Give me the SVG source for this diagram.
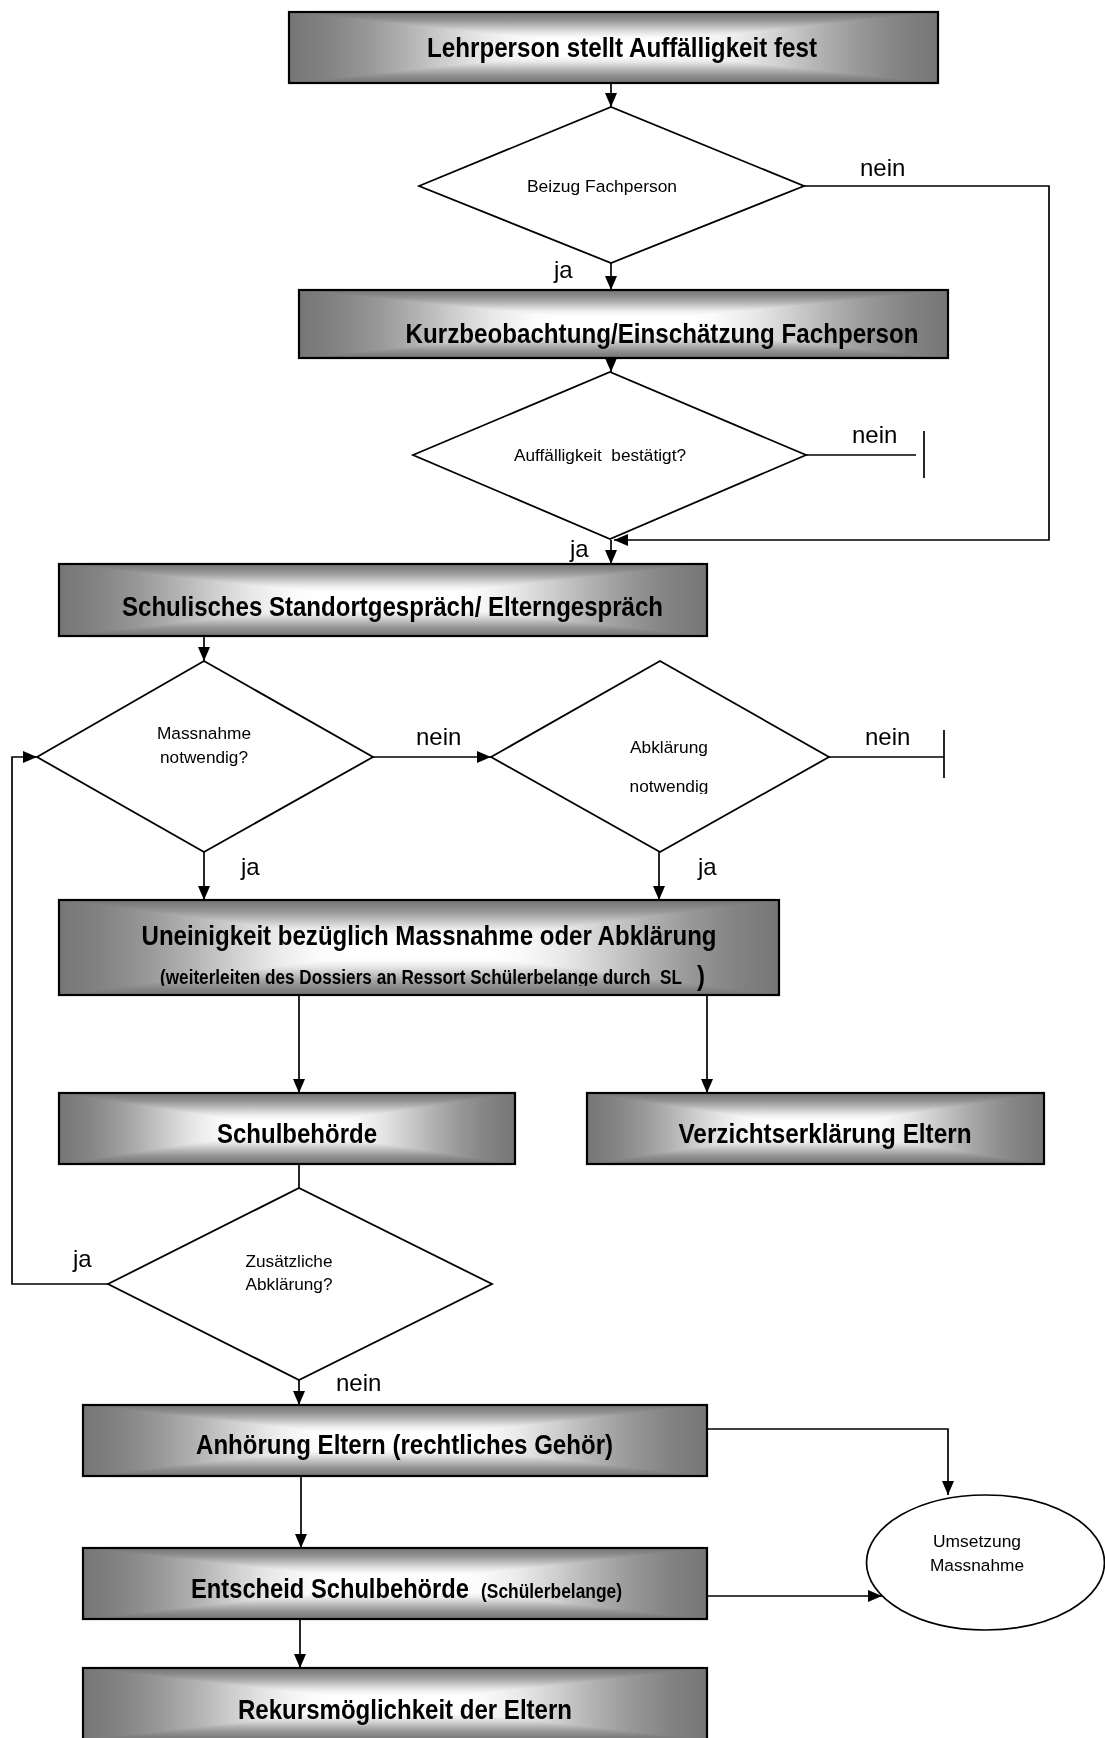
<svg xmlns="http://www.w3.org/2000/svg" width="1105" height="1738" viewBox="0 0 1105 1738">
<style>
.gh{fill:url(#gh)}
.gv{fill:url(#gv);mix-blend-mode:darken}
.bx{fill:none;stroke:#000;stroke-width:2.2}
.dm{fill:#fff;stroke:#000;stroke-width:1.8}
.cn{fill:none;stroke:#000;stroke-width:1.7}
.ar{marker-end:url(#ah)}
.bt{font-family:"Liberation Sans",Arial,sans-serif;font-weight:bold;font-size:24px;fill:#000;text-anchor:middle}
.st{font-family:"Liberation Sans",Arial,sans-serif;font-weight:bold;font-size:17.5px;fill:#000}
.dt{font-family:"Liberation Sans",Arial,sans-serif;font-size:17.4px;fill:#000;text-anchor:middle}
.lb{font-family:"Liberation Sans",Arial,sans-serif;font-size:24px;fill:#000}
</style>
<defs>
<marker id="ah" markerWidth="14" markerHeight="12" refX="14" refY="6" orient="auto" markerUnits="userSpaceOnUse">
<path d="M0,0 L14,6 L0,12 z" fill="#000"/>
</marker>
<linearGradient id="gh" x1="0" y1="0" x2="1" y2="0">
<stop offset="0" stop-color="#767676"/>
<stop offset="0.06" stop-color="#838383"/>
<stop offset="0.12" stop-color="#979797"/>
<stop offset="0.18" stop-color="#b1b1b1"/>
<stop offset="0.24" stop-color="#cecece"/>
<stop offset="0.30" stop-color="#e9e9e9"/>
<stop offset="0.36" stop-color="#fafafa"/>
<stop offset="0.40" stop-color="#ffffff"/>
<stop offset="0.60" stop-color="#ffffff"/>
<stop offset="0.64" stop-color="#fafafa"/>
<stop offset="0.70" stop-color="#e9e9e9"/>
<stop offset="0.76" stop-color="#cecece"/>
<stop offset="0.82" stop-color="#b1b1b1"/>
<stop offset="0.88" stop-color="#979797"/>
<stop offset="0.94" stop-color="#838383"/>
<stop offset="1" stop-color="#767676"/>
</linearGradient>
<linearGradient id="gv" href="#gh" x1="0" y1="0" x2="0" y2="1"/>
<clipPath id="clipNotw"><rect x="600" y="770" width="140" height="24"/></clipPath>
<clipPath id="clipL2"><rect x="-10" y="-25" width="560" height="26.5"/></clipPath>
</defs>

<g id="connectors">
<line class="cn ar" x1="611" y1="83" x2="611" y2="107"/>
<line class="cn ar" x1="611" y1="263" x2="611" y2="290"/>
<polyline class="cn ar" points="804,186 1049,186 1049,540 614,540"/>
<line class="cn ar" x1="611" y1="358" x2="611" y2="372"/>
<line class="cn" x1="806" y1="455" x2="916" y2="455"/>
<line class="cn" x1="924" y1="431" x2="924" y2="478"/>
<line class="cn ar" x1="611" y1="540" x2="611" y2="564"/>
<line class="cn ar" x1="204" y1="636" x2="204" y2="661"/>
<line class="cn ar" x1="373" y1="757" x2="491" y2="757"/>
<line class="cn" x1="829" y1="757" x2="944" y2="757"/>
<line class="cn" x1="944" y1="730" x2="944" y2="778"/>
<line class="cn ar" x1="204" y1="852" x2="204" y2="900"/>
<line class="cn ar" x1="659" y1="852" x2="659" y2="900"/>
<line class="cn ar" x1="299" y1="995" x2="299" y2="1093"/>
<line class="cn ar" x1="707" y1="995" x2="707" y2="1093"/>
<line class="cn" x1="299" y1="1164" x2="299" y2="1188"/>
<polyline class="cn ar" points="108,1284 12,1284 12,757 37,757"/>
<line class="cn ar" x1="299" y1="1380" x2="299" y2="1405"/>
<polyline class="cn ar" points="707,1429 948,1429 948,1495"/>
<line class="cn ar" x1="301" y1="1476" x2="301" y2="1548"/>
<line class="cn ar" x1="707" y1="1596" x2="882" y2="1596"/>
<line class="cn ar" x1="300" y1="1619" x2="300" y2="1668"/>
<text class="lb" x="860" y="176">nein</text>
<text class="lb" x="554" y="278">ja</text>
<text class="lb" x="852" y="443">nein</text>
<text class="lb" x="570" y="557">ja</text>
<text class="lb" x="416" y="745">nein</text>
<text class="lb" x="865" y="745">nein</text>
<text class="lb" x="241" y="875">ja</text>
<text class="lb" x="698" y="875">ja</text>
<text class="lb" x="73" y="1267">ja</text>
<text class="lb" x="336" y="1391">nein</text>
</g>

<g id="box1">
<rect class="gh" x="289" y="12" width="649" height="71"/>
<rect class="gv" x="289" y="12" width="649" height="71"/>
<rect class="bx" x="289" y="12" width="649" height="71"/>
<text class="bt" transform="translate(622,57) scale(1,1.125)" textLength="390" lengthAdjust="spacingAndGlyphs">Lehrperson stellt Auffälligkeit fest</text>
</g>

<g id="dia1">
<polygon class="dm" points="419,186 611,107 804,186 611,263"/>
<text class="dt" x="602" y="192" textLength="150" lengthAdjust="spacingAndGlyphs">Beizug Fachperson</text>
</g>

<g id="box2">
<rect class="gh" x="299" y="290" width="649" height="68"/>
<rect class="gv" x="299" y="290" width="649" height="68"/>
<rect class="bx" x="299" y="290" width="649" height="68"/>
<text class="bt" transform="translate(662,343) scale(1,1.125)" textLength="513" lengthAdjust="spacingAndGlyphs">Kurzbeobachtung/Einschätzung Fachperson</text>
</g>

<g id="dia2">
<polygon class="dm" points="413,455 610,372 806,455 610,539"/>
<text class="dt" x="600" y="461" textLength="172" lengthAdjust="spacingAndGlyphs" xml:space="preserve">Auffälligkeit  bestätigt?</text>
</g>

<g id="box3">
<rect class="gh" x="59" y="564" width="648" height="72"/>
<rect class="gv" x="59" y="564" width="648" height="72"/>
<rect class="bx" x="59" y="564" width="648" height="72"/>
<text class="bt" transform="translate(392.5,616) scale(1,1.125)" textLength="541" lengthAdjust="spacingAndGlyphs">Schulisches Standortgespräch/ Elterngespräch</text>
</g>

<g id="dia3">
<polygon class="dm" points="37,757 204,661 373,757 204,852"/>
<text class="dt" x="204" y="739" textLength="94" lengthAdjust="spacingAndGlyphs">Massnahme</text>
<text class="dt" x="204" y="763" textLength="88" lengthAdjust="spacingAndGlyphs">notwendig?</text>
</g>

<g id="dia4">
<polygon class="dm" points="491,757 660,661 829,757 660,852"/>
<text class="dt" x="669" y="753" textLength="78" lengthAdjust="spacingAndGlyphs">Abklärung</text>
<text class="dt" x="669" y="792" textLength="79" lengthAdjust="spacingAndGlyphs" clip-path="url(#clipNotw)">notwendig</text>
</g>

<g id="box4">
<rect class="gh" x="59" y="900" width="720" height="95"/>
<rect class="gv" x="59" y="900" width="720" height="95"/>
<rect class="bx" x="59" y="900" width="720" height="95"/>
<text class="bt" transform="translate(429,945) scale(1,1.125)" textLength="575" lengthAdjust="spacingAndGlyphs">Uneinigkeit bezüglich Massnahme oder Abklärung</text>
<text class="st" transform="translate(160,984) scale(1,1.2)" textLength="522" lengthAdjust="spacingAndGlyphs" clip-path="url(#clipL2)" xml:space="preserve">(weiterleiten des Dossiers an Ressort Schülerbelange durch  SL</text>
<text class="bt" transform="translate(697,985) scale(1,1.125)" style="text-anchor:start">)</text>
</g>

<g id="box5">
<rect class="gh" x="59" y="1093" width="456" height="71"/>
<rect class="gv" x="59" y="1093" width="456" height="71"/>
<rect class="bx" x="59" y="1093" width="456" height="71"/>
<text class="bt" transform="translate(297,1143) scale(1,1.125)" textLength="160" lengthAdjust="spacingAndGlyphs">Schulbehörde</text>
</g>

<g id="box6">
<rect class="gh" x="587" y="1093" width="457" height="71"/>
<rect class="gv" x="587" y="1093" width="457" height="71"/>
<rect class="bx" x="587" y="1093" width="457" height="71"/>
<text class="bt" transform="translate(825,1143) scale(1,1.125)" textLength="293" lengthAdjust="spacingAndGlyphs">Verzichtserklärung Eltern</text>
</g>

<g id="dia5">
<polygon class="dm" points="108,1284 299,1188 492,1284 299,1380"/>
<text class="dt" x="289" y="1267" textLength="87" lengthAdjust="spacingAndGlyphs">Zusätzliche</text>
<text class="dt" x="289" y="1290" textLength="87" lengthAdjust="spacingAndGlyphs">Abklärung?</text>
</g>

<g id="box7">
<rect class="gh" x="83" y="1405" width="624" height="71"/>
<rect class="gv" x="83" y="1405" width="624" height="71"/>
<rect class="bx" x="83" y="1405" width="624" height="71"/>
<text class="bt" transform="translate(404.5,1454) scale(1,1.125)" textLength="417" lengthAdjust="spacingAndGlyphs">Anhörung Eltern (rechtliches Gehör)</text>
</g>

<g id="box8">
<rect class="gh" x="83" y="1548" width="624" height="71"/>
<rect class="gv" x="83" y="1548" width="624" height="71"/>
<rect class="bx" x="83" y="1548" width="624" height="71"/>
<text class="bt" transform="translate(330,1598) scale(1,1.125)" textLength="278" lengthAdjust="spacingAndGlyphs">Entscheid Schulbehörde</text>
<text class="st" transform="translate(481,1598) scale(1,1.15)" style="font-size:17.4px" textLength="141" lengthAdjust="spacingAndGlyphs">(Schülerbelange)</text>
</g>

<g id="box9">
<rect class="gh" x="83" y="1668" width="624" height="72"/>
<rect class="gv" x="83" y="1668" width="624" height="72"/>
<rect class="bx" x="83" y="1668" width="624" height="72"/>
<text class="bt" transform="translate(405,1719) scale(1,1.125)" textLength="334" lengthAdjust="spacingAndGlyphs">Rekursmöglichkeit der Eltern</text>
</g>

<g id="ellipse1">
<ellipse cx="985.5" cy="1562.5" rx="119" ry="67.5" fill="#fff" stroke="#000" stroke-width="1.7"/>
<text class="dt" x="977" y="1547" textLength="88" lengthAdjust="spacingAndGlyphs">Umsetzung</text>
<text class="dt" x="977" y="1571" textLength="94" lengthAdjust="spacingAndGlyphs">Massnahme</text>
</g>
</svg>
